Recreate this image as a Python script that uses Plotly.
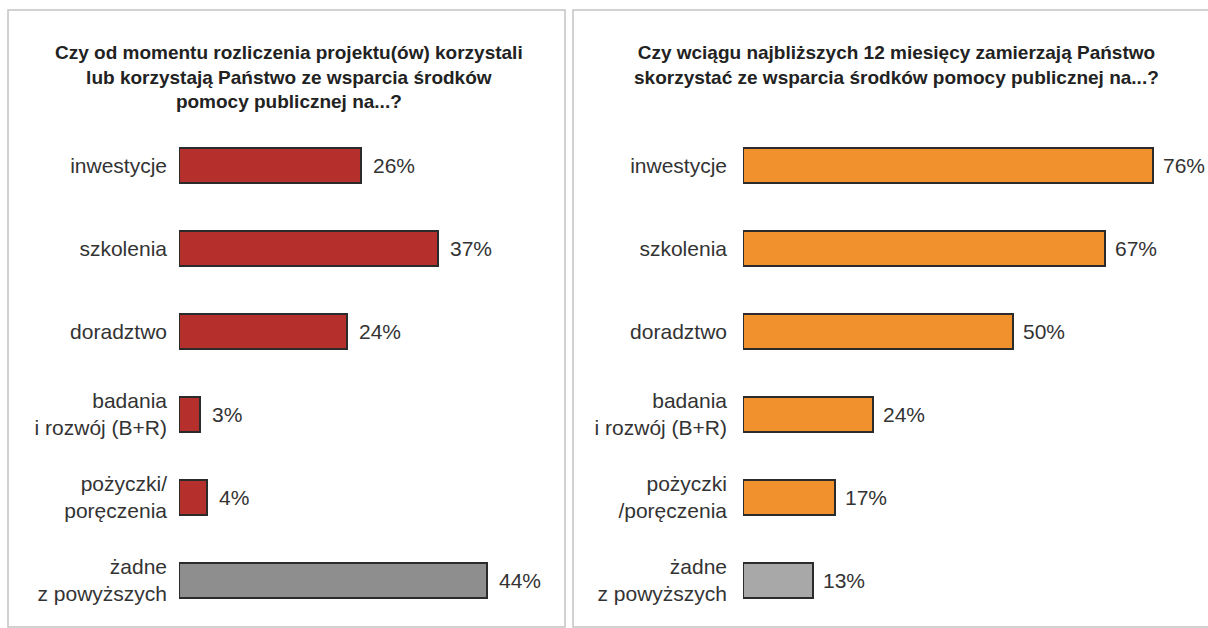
import plotly.graph_objects as go

W, H = 1208, 628

# ---- data ----
categories_left = ["inwestycje", "szkolenia", "doradztwo",
                   "badania<br>i rozwój (B+R)", "pożyczki/<br>poręczenia",
                   "żadne<br>z powyższych"]
values_left = [26, 37, 24, 3, 4, 44]

categories_right = ["inwestycje", "szkolenia", "doradztwo",
                    "badania<br>i rozwój (B+R)", "pożyczki<br>/poręczenia",
                    "żadne<br>z powyższych"]
values_right = [76, 67, 50, 24, 17, 13]

title_left = ("Czy od momentu rozliczenia projektu(ów) korzystali<br>"
              "lub korzystają Państwo ze wsparcia środków<br>"
              "pomocy publicznej na...?")
title_right = ("Czy wciągu najbliższych 12 miesięcy zamierzają Państwo<br>"
               "skorzystać ze wsparcia środków pomocy publicznej na...?")

# ---- styles ----
RED, ORANGE = "#B5302C", "#F0912D"
GRAY_L, GRAY_R = "#8E8E8E", "#A8A8A8"
colors_left = [RED] * 5 + [GRAY_L]
colors_right = [ORANGE] * 5 + [GRAY_R]
FONT = "Liberation Sans, Arial, sans-serif"
TXT = "#333333"


def px_x(p):
    return p / W


def px_y(p):
    return 1 - p / H


fig = go.Figure()
fig.add_trace(go.Bar(x=values_left, y=categories_left, orientation="h",
                     marker=dict(color=colors_left, line=dict(color="#2b2b2b", width=2)),
                     width=0.42, xaxis="x", yaxis="y", hoverinfo="skip"))
fig.add_trace(go.Bar(x=values_right, y=categories_right, orientation="h",
                     marker=dict(color=colors_right, line=dict(color="#2b2b2b", width=2)),
                     width=0.42, xaxis="x2", yaxis="y2", hoverinfo="skip"))

annotations = []
for c, v in zip(categories_left, values_left):
    annotations.append(dict(x=v, y=c, xref="x", yref="y", text=f"{v}%",
                            xanchor="left", xshift=10, showarrow=False,
                            font=dict(size=21, color=TXT, family=FONT)))
for c, v in zip(categories_right, values_right):
    annotations.append(dict(x=v, y=c, xref="x2", yref="y2", text=f"{v}%",
                            xanchor="left", xshift=8, showarrow=False,
                            font=dict(size=21, color=TXT, family=FONT)))

annotations.append(dict(x=px_x(289), y=px_y(40), xref="paper", yref="paper",
                        text=f"<b>{title_left}</b>", showarrow=False,
                        xanchor="center", yanchor="top", align="center",
                        font=dict(size=19, color="#222222", family=FONT)))
annotations.append(dict(x=px_x(896), y=px_y(40), xref="paper", yref="paper",
                        text=f"<b>{title_right}</b>", showarrow=False,
                        xanchor="center", yanchor="top", align="center",
                        font=dict(size=19, color="#222222", family=FONT)))

shapes = [
    dict(type="rect", xref="paper", yref="paper",
         x0=px_x(8), x1=px_x(565), y0=px_y(627), y1=px_y(10),
         line=dict(color="#C4C4C4", width=1.5), fillcolor="rgba(0,0,0,0)", layer="below"),
    dict(type="rect", xref="paper", yref="paper",
         x0=px_x(573), x1=px_x(1215), y0=px_y(627), y1=px_y(10),
         line=dict(color="#C4C4C4", width=1.5), fillcolor="rgba(0,0,0,0)", layer="below"),
]

ydom = [px_y(622), px_y(124)]
L0, L1 = 179, 550
R0, R1 = 743, 1200
axis_common = dict(showgrid=False, zeroline=False, showline=False,
                   showticklabels=False, ticks="", fixedrange=True)
yaxis_common = dict(showgrid=False, zeroline=False, showline=False, ticks="",
                    autorange="reversed", type="category", domain=ydom,
                    tickfont=dict(size=21, color=TXT, family=FONT),
                    fixedrange=True)

fig.update_layout(
    width=W, height=H,
    margin=dict(l=0, r=0, t=0, b=0),
    paper_bgcolor="white", plot_bgcolor="rgba(0,0,0,0)",
    showlegend=False,
    bargap=0,
    xaxis=dict(domain=[px_x(L0), px_x(L1)], range=[0, (L1 - L0) / 7.0], anchor="y", **axis_common),
    yaxis=dict(anchor="x", ticklabelstandoff=11, **yaxis_common),
    xaxis2=dict(domain=[px_x(R0), px_x(R1)], range=[0, (R1 - R0) / 5.40], anchor="y2", **axis_common),
    yaxis2=dict(anchor="x2", ticklabelstandoff=15, **yaxis_common),
    annotations=annotations,
    shapes=shapes,
)

fig.write_html(
    "out.html",
    config={"displayModeBar": False},
    post_script="document.body.style.margin='0';document.body.style.overflow='hidden';",
)
